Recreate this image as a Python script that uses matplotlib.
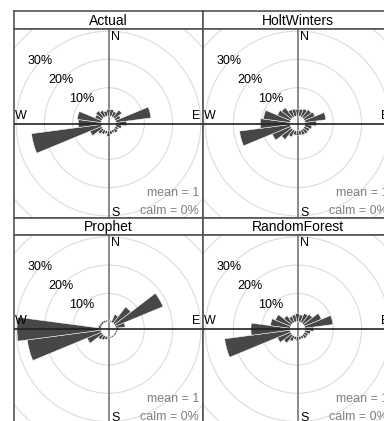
import matplotlib
matplotlib.use("Agg")
import matplotlib.pyplot as plt
from matplotlib.patches import Wedge, Circle
import numpy as np

plt.rcParams['font.family'] = ['Liberation Sans', 'DejaVu Sans']

# wind direction bins (degrees from north, 15 degree sectors)
wind_dirs = [0, 15, 30, 45, 60, 75, 90, 105, 120, 135, 150, 165,
             180, 195, 210, 225, 240, 255, 270, 285, 300, 315, 330, 345]

# frequency (%) per sector for each model
actual = [2.3, 2.4, 2.0, 3.3, 2.0, 12.5, 3.8, 2.0, 1.2, 1.5, 1.0, 1.2,
          1.9, 1.0, 1.5, 2.0, 4.4, 24.8, 8.0, 8.5, 2.5, 3.0, 2.4, 1.8]
holtwinters = [2.3, 2.5, 3.0, 3.5, 4.0, 7.5, 4.0, 2.5, 2.0, 2.0, 1.8, 1.5,
               1.5, 1.5, 2.5, 4.5, 7.0, 18.0, 10.5, 9.5, 5.0, 4.4, 2.7, 2.5]
prophet = [0.6, 0.5, 3.0, 7.3, 18.2, 3.3, 1.0, 0.5, 0.5, 0.5, 0.5, 0.5,
           0.5, 1.0, 1.5, 2.0, 5.5, 26.3, 29.7, 1.0, 0.8, 0.8, 0.7, 0.6]
randomforest = [2.9, 2.5, 3.4, 4.0, 6.5, 10.0, 3.0, 2.0, 1.5, 1.5, 1.0, 1.0,
                1.5, 1.0, 2.0, 3.5, 5.0, 23.3, 13.8, 7.0, 5.8, 3.4, 2.3, 2.5]

panel_names = ["Actual", "HoltWinters", "Prophet", "RandomForest"]
panel_data = [actual, holtwinters, prophet, randomforest]
mean_speed = [1, 1, 1, 1]
calm_pct = [0, 0, 0, 0]
grid_levels = [10, 20, 30, 40]
grid_labels = [10, 20, 30]

W, H = 384, 421
fig = plt.figure(figsize=(W / 100, H / 100), dpi=100)

PX_PER_PCT = 2.83
OFFSET = 7.5 / PX_PER_PCT   # hole in the middle, in % units
SECTOR = 15
BAR_COL = "#474747"
FRAME_COL = "#555555"

cols = [(14, 203), (203, 392)]
rows = [(11, 29.3, 217.7), (217.7, 235, 423.4)]


def px_axes(x0, y0, x1, y1):
    return fig.add_axes([x0 / W, 1 - y1 / H, (x1 - x0) / W, (y1 - y0) / H])


def style_frame(ax):
    ax.set_xticks([])
    ax.set_yticks([])
    for sp in ax.spines.values():
        sp.set_color(FRAME_COL)
        sp.set_linewidth(1.2)


for i, (name, vals) in enumerate(zip(panel_names, panel_data)):
    x0, x1 = cols[i % 2]
    s0, s1, p1 = rows[i // 2]

    # strip with the panel title
    strip = px_axes(x0, s0, x1, s1)
    style_frame(strip)
    strip.text(0.5, 0.45, name, ha="center", va="center", fontsize=10,
               transform=strip.transAxes)

    ax = px_axes(x0, s1, x1, p1)
    style_frame(ax)
    hw = (x1 - x0) / 2 / PX_PER_PCT
    hh = (p1 - s1) / 2 / PX_PER_PCT
    ax.set_xlim(-hw, hw)
    ax.set_ylim(-hh, hh)

    # grid circles
    for lev in grid_levels:
        ax.add_patch(Circle((0, 0), OFFSET + lev, fill=False,
                            ec="#dcdcdc", lw=0.8, zorder=1))

    ax.axvline(0, color="#777777", lw=1.2, zorder=2)

    # sector bars
    for d, v in zip(wind_dirs, vals):
        mid = 90 - d
        ax.add_patch(Wedge((0, 0), OFFSET + v, mid - SECTOR / 2, mid + SECTOR / 2,
                           width=v, fc=BAR_COL, ec="white", lw=0.35, zorder=3))

    ax.axhline(0, color="#222222", lw=1.2, zorder=4)

    # percentage labels along the NW diagonal
    ang = np.deg2rad(137.5)
    for lev in grid_labels:
        r = OFFSET + lev
        ax.text(r * np.cos(ang), r * np.sin(ang), f"{lev}%", fontsize=9,
                ha="center", va="center", zorder=5, clip_on=True)

    # compass letters
    ax.text(0.515, 0.99, "N", transform=ax.transAxes, ha="left", va="top", fontsize=9)
    ax.text(0.515, -0.005, "S", transform=ax.transAxes, ha="left", va="bottom", fontsize=9)
    ax.text(0.005, 0.51, "W", transform=ax.transAxes, ha="left", va="bottom", fontsize=9)
    ax.text(0.985, 0.51, "E", transform=ax.transAxes, ha="right", va="bottom", fontsize=9)

    ax.text(0.98, 0.13, f"mean = {mean_speed[i]}", transform=ax.transAxes,
            ha="right", va="center", fontsize=9, color="#808080")
    ax.text(0.98, 0.035, f"calm = {calm_pct[i]}%", transform=ax.transAxes,
            ha="right", va="center", fontsize=9, color="#808080")

fig.savefig("out.png", dpi=100, facecolor="white")
